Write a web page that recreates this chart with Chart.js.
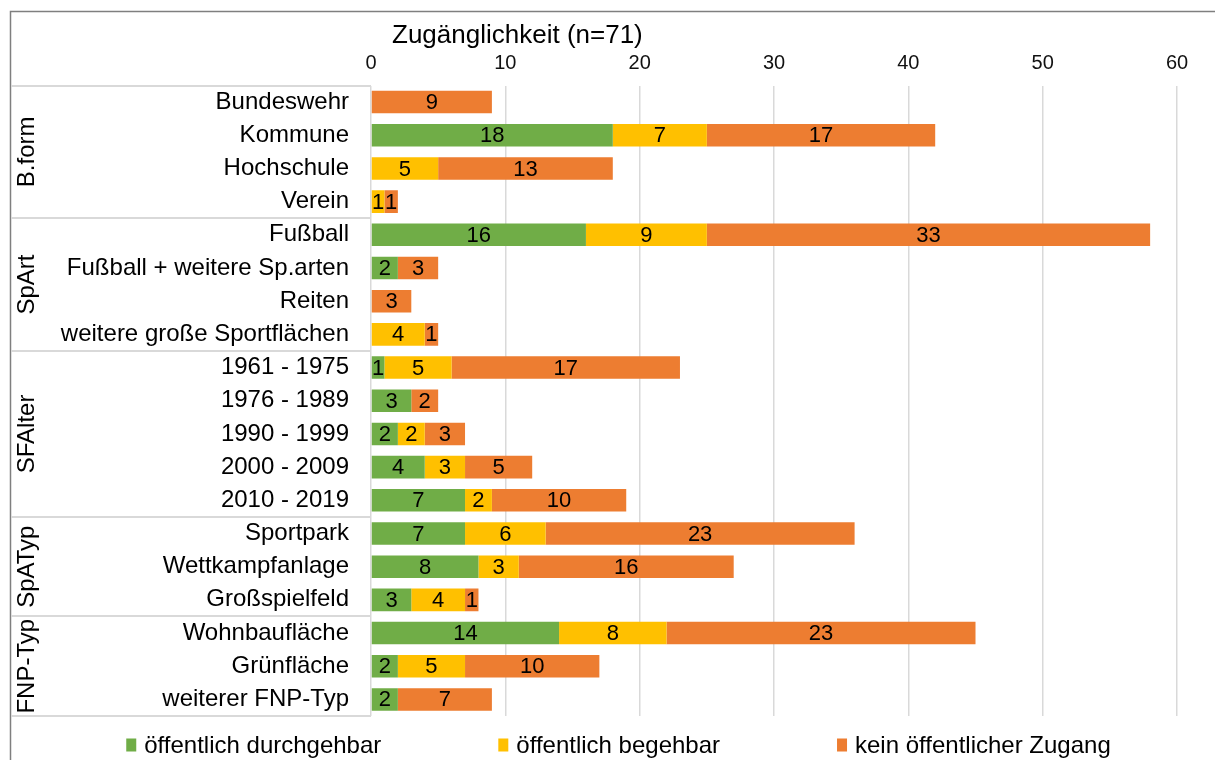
<!DOCTYPE html>
<html>
<head>
<meta charset="utf-8">
<script src="https://cdn.jsdelivr.net/npm/chart.js@4.4.1/dist/chart.umd.min.js"></script>
<style>
html,body{margin:0;padding:0;background:#fff;}
#wrap{width:1215px;height:760px;}
</style>
</head>
<body>
<div id="wrap"><canvas id="zugang" width="1215" height="760"></canvas></div>
<script>
const categories = ["Bundeswehr","Kommune","Hochschule","Verein",
  "Fußball","Fußball + weitere Sp.arten","Reiten","weitere große Sportflächen",
  "1961 - 1975","1976 - 1989","1990 - 1999","2000 - 2009","2010 - 2019",
  "Sportpark","Wettkampfanlage","Großspielfeld",
  "Wohnbaufläche","Grünfläche","weiterer FNP-Typ"];
const durchgehbar = [0,18,0,0, 16,2,0,0, 1,3,2,4,7, 7,8,3, 14,2,2];
const begehbar    = [0,7,5,1,  9,0,0,4,  5,0,2,3,2, 6,3,4, 8,5,0];
const keinZugang  = [9,17,13,1, 33,3,3,1, 17,2,3,5,10, 23,16,1, 23,10,7];
const groupNames = ["B.form","SpArt","SFAlter","SpATyp","FNP-Typ"];
const groupSizes = [4,4,5,3,3];
const seriesNames = ["öffentlich durchgehbar","öffentlich begehbar","kein öffentlicher Zugang"];
const xTitle = "Zugänglichkeit (n=71)";

const FONT = "'Liberation Sans', Arial, sans-serif";
const colors = ["#70AD47","#FFC000","#ED7D31"];

// labels, table lines, title and legend drawn by hand
const extras = {
  id: "extras",
  beforeDraw(chart) {
    const ctx = chart.ctx, y = chart.scales.y, area = chart.chartArea;
    ctx.save();
    // outer frame (top + left)
    ctx.strokeStyle = "#7f7f7f";
    ctx.lineWidth = 1.5;
    ctx.beginPath();
    ctx.moveTo(10.5, chart.height);
    ctx.lineTo(10.5, 11.5);
    ctx.lineTo(chart.width, 11.5);
    ctx.stroke();
    // table lines at left
    ctx.strokeStyle = "#d9d9d9";
    ctx.lineWidth = 2;
    let b = 0;
    const bounds = [0];
    groupSizes.forEach(s => { b += s; bounds.push(b); });
    bounds.forEach(v => {
      const py = Math.round(y.getPixelForValue(v - 0.5));
      ctx.beginPath();
      ctx.moveTo(11, py);
      ctx.lineTo(area.left, py);
      ctx.stroke();
    });
    ctx.restore();
  },
  afterDatasetsDraw(chart) {
    const ctx = chart.ctx;
    ctx.save();
    ctx.font = "22px " + FONT;
    ctx.fillStyle = "#000";
    ctx.textAlign = "center";
    ctx.textBaseline = "middle";
    chart.data.datasets.forEach((ds, i) => {
      chart.getDatasetMeta(i).data.forEach((bar, j) => {
        const v = ds.data[j];
        if (!v) return;
        const p = bar.getProps(["x","y","base"], true);
        ctx.fillText(String(v), (p.x + p.base) / 2, p.y + 1);
      });
    });
    ctx.restore();
  },
  afterDraw(chart) {
    const ctx = chart.ctx, y = chart.scales.y, area = chart.chartArea;
    ctx.save();
    // axis title
    ctx.fillStyle = "#000";
    ctx.font = "26px " + FONT;
    ctx.textAlign = "left";
    ctx.textBaseline = "middle";
    ctx.fillText(xTitle, area.left + 21, 36);
    // group labels, rotated
    ctx.font = "24px " + FONT;
    ctx.textAlign = "center";
    let start = 0;
    groupNames.forEach((g, k) => {
      const end = start + groupSizes[k];
      const cy = (y.getPixelForValue(start - 0.5) + y.getPixelForValue(end - 0.5)) / 2;
      ctx.save();
      ctx.translate(27, cy);
      ctx.rotate(-Math.PI / 2);
      ctx.fillText(g, 0, 0);
      ctx.restore();
      start = end;
    });
    // legend
    ctx.font = "24px " + FONT;
    ctx.textAlign = "left";
    const box = 10, gap = 8, spacing = 117;
    const widths = seriesNames.map(n => box + gap + ctx.measureText(n).width);
    const total = widths.reduce((a, w) => a + w, 0) + spacing * (seriesNames.length - 1);
    let lx = chart.width / 2 + 11 - total / 2;
    const ly = 745;
    seriesNames.forEach((n, k) => {
      ctx.fillStyle = colors[k];
      ctx.fillRect(lx, ly - 6.5, box, 13);
      ctx.fillStyle = "#000";
      ctx.fillText(n, lx + box + gap, ly + 1);
      lx += widths[k] + spacing;
    });
    ctx.restore();
  }
};

new Chart(document.getElementById("zugang"), {
  type: "bar",
  data: {
    labels: categories,
    datasets: [
      { label: seriesNames[0], data: durchgehbar, backgroundColor: colors[0] },
      { label: seriesNames[1], data: begehbar, backgroundColor: colors[1] },
      { label: seriesNames[2], data: keinZugang, backgroundColor: colors[2] }
    ]
  },
  options: {
    indexAxis: "y",
    responsive: false,
    animation: false,
    layout: { padding: { left: 0, right: 38, top: 0, bottom: 44 } },
    datasets: { bar: { categoryPercentage: 1, barPercentage: 0.68, borderWidth: 0 } },
    plugins: { legend: { display: false }, tooltip: { enabled: false } },
    scales: {
      x: {
        position: "top",
        stacked: true,
        min: 0, max: 60,
        ticks: { stepSize: 10, color: "#111", font: { family: FONT, size: 20 }, padding: 10 },
        grid: { color: "#d9d9d9", lineWidth: 1.5, drawTicks: false },
        border: { display: false },
        afterFit(s) { s.height = 85.5; }
      },
      y: {
        stacked: true,
        ticks: { color: "#000", font: { family: FONT, size: 24 }, padding: 22 },
        grid: { display: false, drawTicks: false },
        border: { display: false },
        afterFit(s) { s.width = 371; }
      }
    }
  },
  plugins: [extras]
});
</script>
</body>
</html>
